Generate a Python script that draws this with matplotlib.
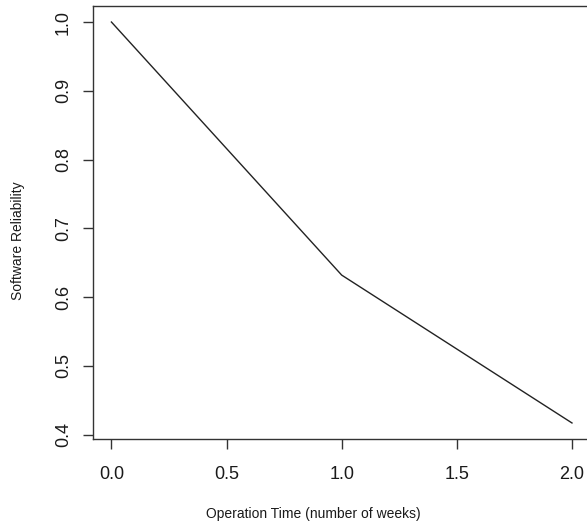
import matplotlib
matplotlib.use("Agg")
import matplotlib.pyplot as plt

# Data
time_weeks = [0.0, 1.0, 2.0]
reliability = [1.0, 0.632, 0.417]
x_ticks = [0.0, 0.5, 1.0, 1.5, 2.0]
y_ticks = [0.4, 0.5, 0.6, 0.7, 0.8, 0.9, 1.0]

plt.rcParams['font.family'] = ['Liberation Sans', 'DejaVu Sans']

W, H = 587, 528
fig = plt.figure(figsize=(W / 100, H / 100), dpi=100)
ax = fig.add_axes([93 / W, 89 / H, (590.4 - 93) / W, (439 - 6) / H])

ax.plot(time_weeks, reliability, color='#222222', lw=1.0)

ax.set_xlim(-0.08, 2.08)
ax.set_ylim(0.3937, 1.0233)
ax.set_xticks(x_ticks)
ax.set_xticklabels([f"{v:.1f}" for v in x_ticks])
ax.set_yticks(y_ticks)
ax.set_yticklabels([f"{v:.1f}" for v in y_ticks])

for s in ax.spines.values():
    s.set_color('#333333')
    s.set_linewidth(1.0)

ax.tick_params(axis='both', length=7.2, width=1.0, color='#333333',
               labelsize=13, labelcolor='#1a1a1a')
ax.tick_params(axis='x', pad=12)
ax.tick_params(axis='y', pad=8)
plt.setp(ax.get_yticklabels(), rotation=90, va='center')

fig.text(313.5 / W, 1 - 514 / H, "Operation Time (number of weeks)",
         ha='center', va='center', fontsize=10, color='#1a1a1a')
fig.text(18 / W, 1 - 241 / H, "Software Reliability", rotation=90,
         ha='center', va='center', fontsize=10, color='#1a1a1a')

fig.savefig("out.png", dpi=100)
